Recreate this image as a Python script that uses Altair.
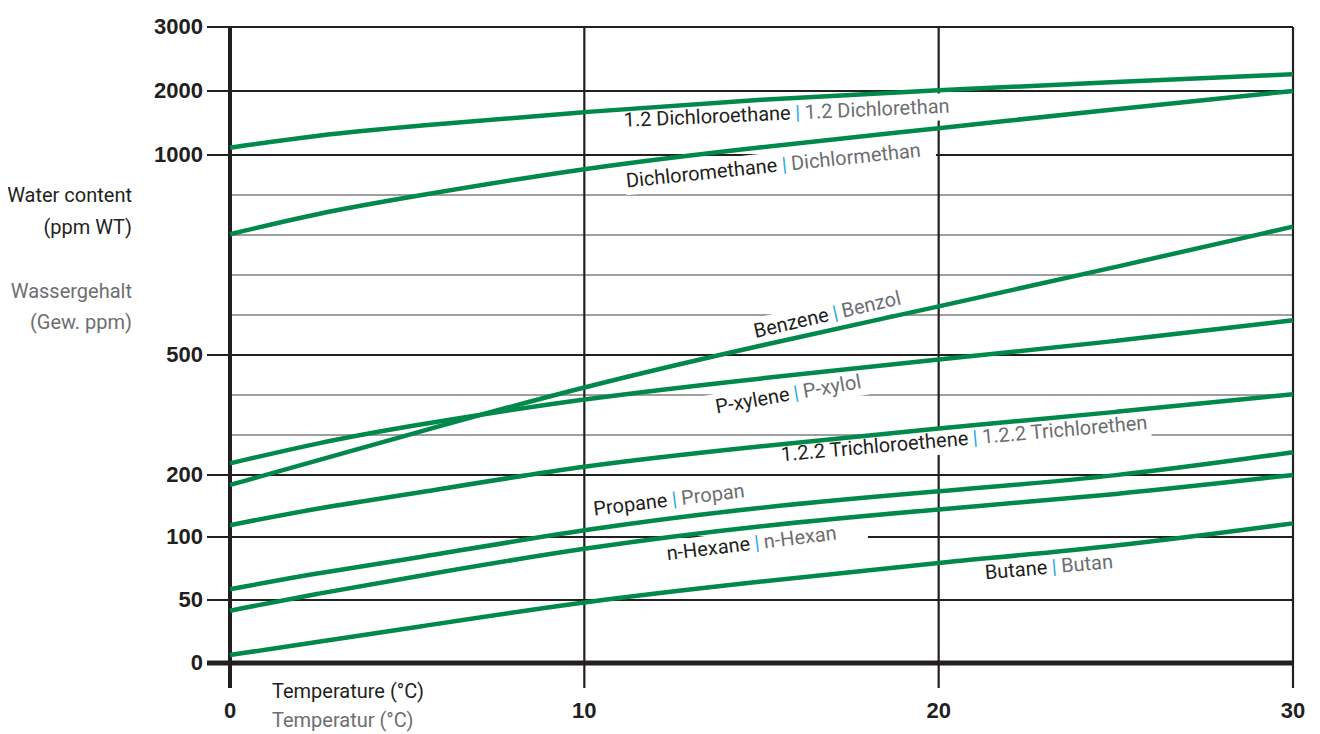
import altair as alt
import pandas as pd
import numpy as np

# ---------------- data ----------------
temps = [0, 2.5, 5, 10, 15, 20, 25, 30]

dichloroethane = [1114, 1312, 1442, 1677, 1870, 2016, 2141, 2261]
dichloromethane = [802, 855, 894, 968, 1128, 1417, 1719, 2000]
benzene = [184, 237, 300, 422, 525, 621, 720, 821]
p_xylene = [229, 281, 322, 392, 442, 489, 534, 587]
trichloroethene = [119, 147, 168, 225, 272, 317, 357, 402]
propane = [58.5, 71.7, 82, 113, 149, 174, 197, 257]
n_hexane = [41.5, 55.3, 67.5, 91.7, 119, 145, 168, 200]
butane = [6.3, 16.9, 27.3, 49, 64.7, 79.8, 92.3, 122]

series = {
    "1.2 Dichloroethane": dichloroethane,
    "Dichloromethane": dichloromethane,
    "Benzene": benzene,
    "P-xylene": p_xylene,
    "1.2.2 Trichloroethene": trichloroethene,
    "Propane": propane,
    "n-Hexane": n_hexane,
    "Butane": butane,
}

y_tick_values = [0, 50, 100, 200, 500, 1000, 2000, 3000]
major_lines = [50, 100, 200, 500, 1000, 2000, 3000]
minor_lines = [300, 400, 600, 700, 800, 900]
x_tick_values = [0, 10, 20, 30]
x_grid_values = [10, 20, 30]

label_en = ["1.2 Dichloroethane", "Dichloromethane", "Benzene", "P-xylene",
            "1.2.2 Trichloroethene", "Propane", "n-Hexane", "Butane"]
label_de = ["1.2 Dichlorethan", "Dichlormethan", "Benzol", "P-xylol",
            "1.2.2 Trichlorethen", "Propan", "n-Hexan", "Butan"]
label_t = [16.02, 15.64, 17.08, 15.98, 21.03, 12.54, 14.87, 23.26]
label_v = [1652, 975, 604, 404, 292, 160, 95, 76]
label_angle = [357.5, 354, 347, 350, 355, 353, 353, 355]
box_left = [178, 160, 92, 92, 198, 87, 97, 72]
box_right = [160, 152, 75, 75, 176, 78, 111, 64]

# ---------------- styling ----------------
W, H = 1063, 636
Y_DOMAIN = [0, 50, 100, 200, 1000, 2000, 3000]
Y_RANGE = [636, 573, 510, 448, 128, 64, 0]
GREEN = "#00894B"
DARK = "#231F20"
GRAY = "#6D6E71"
BLUE = "#27AAE1"
MINOR = "#7F7F7F"
NARROW = "Roboto, Liberation Sans Narrow, sans-serif"
BOLD = "Liberation Sans, Arial, Helvetica, sans-serif"
LABEL_SIZE = 20

XS = alt.Scale(domain=[0, 30], nice=False, zero=False)
YS = alt.Scale(domain=Y_DOMAIN, range=Y_RANGE, nice=False, zero=False)


def y_px(v):
    return float(np.interp(v, Y_DOMAIN, Y_RANGE))


def y_val(p):
    return float(np.interp(p, Y_RANGE[::-1], Y_DOMAIN[::-1]))


# ---------------- tables ----------------
curve_rows = []
for name, vals in series.items():
    for t, v in zip(temps, vals):
        curve_rows.append({"series": name, "t": t, "v": v})
curves_df = pd.DataFrame(curve_rows)

labels_df = pd.DataFrame({
    "en": label_en, "de": label_de, "t": label_t, "v": label_v,
    "angle": label_angle, "sep": ["|"] * len(label_en),
})

box_rows = []
for i in range(len(label_en)):
    a = np.radians(label_angle[i] - 360)
    ax = label_t[i] / 30 * W
    ay = y_px(label_v[i])
    for sgn, ln in ((-1, box_left[i]), (1, box_right[i])):
        px = ax + sgn * ln * np.cos(a)
        py = ay + sgn * ln * np.sin(a)
        box_rows.append({"id": i, "t": px / W * 30, "v": y_val(py)})
boxes_df = pd.DataFrame(box_rows)

X_ENC = dict(scale=XS, axis=None)
Y_ENC = dict(scale=YS, axis=None)

# ---------------- layers ----------------
minor = alt.Chart(pd.DataFrame({"v": minor_lines})).mark_rule(
    color=MINOR, strokeWidth=1.3
).encode(y=alt.Y("v:Q", **Y_ENC), x=alt.value(0), x2=alt.value(W))

major = alt.Chart(pd.DataFrame({"v": major_lines})).mark_rule(
    color=DARK, strokeWidth=2.2
).encode(y=alt.Y("v:Q", **Y_ENC), x=alt.value(-23), x2=alt.value(W))

vgrid = alt.Chart(pd.DataFrame({"t": x_grid_values})).mark_rule(
    color=DARK, strokeWidth=2.2
).encode(x=alt.X("t:Q", **X_ENC), y=alt.value(0), y2=alt.value(H + 25))

boxes = alt.Chart(boxes_df).mark_line(
    color="white", strokeWidth=27, strokeCap="butt"
).encode(
    x=alt.X("t:Q", **X_ENC),
    y=alt.Y("v:Q", **Y_ENC),
    detail="id:N",
)

left_axis = alt.Chart(pd.DataFrame({"t": [0]})).mark_rule(
    color=DARK, strokeWidth=4
).encode(x=alt.X("t:Q", **X_ENC), y=alt.value(0), y2=alt.value(H + 25))

bottom_axis = alt.Chart(pd.DataFrame({"v": [0]})).mark_rule(
    color=DARK, strokeWidth=5
).encode(y=alt.Y("v:Q", **Y_ENC), x=alt.value(-23), x2=alt.value(W))

curves = alt.Chart(curves_df).mark_line(
    interpolate="basis", strokeWidth=4.5, color=GREEN
).encode(
    x=alt.X("t:Q", **X_ENC),
    y=alt.Y("v:Q", **Y_ENC),
    detail="series:N",
)

y_labels = alt.Chart(pd.DataFrame({"v": y_tick_values})).mark_text(
    align="right", baseline="middle", font=BOLD, fontWeight="bold",
    fontSize=22, color=DARK
).encode(y=alt.Y("v:Q", **Y_ENC), x=alt.value(-27),
         text=alt.Text("v:Q", format="d"))

x_labels = alt.Chart(pd.DataFrame({"t": x_tick_values})).mark_text(
    align="center", baseline="top", font=BOLD, fontWeight="bold",
    fontSize=22, color=DARK
).encode(x=alt.X("t:Q", **X_ENC), y=alt.value(H + 38),
         text=alt.Text("t:Q", format="d"))

base_lab = alt.Chart(labels_df).encode(
    x=alt.X("t:Q", **X_ENC),
    y=alt.Y("v:Q", **Y_ENC),
    angle=alt.Angle("angle:Q", scale=None),
)
lab_en = base_lab.mark_text(align="right", baseline="middle", dx=-7,
                            font=NARROW, fontSize=LABEL_SIZE, color=DARK).encode(text="en:N")
lab_sep = base_lab.mark_text(align="center", baseline="middle",
                             font=NARROW, fontSize=LABEL_SIZE, color=BLUE).encode(text="sep:N")
lab_de = base_lab.mark_text(align="left", baseline="middle", dx=7,
                            font=NARROW, fontSize=LABEL_SIZE, color=GRAY).encode(text="de:N")


def note(text, x, y, color, align):
    return alt.Chart(pd.DataFrame({"s": [text]})).mark_text(
        align=align, baseline="alphabetic", font=NARROW, fontSize=20, color=color
    ).encode(text="s:N", x=alt.value(x), y=alt.value(y))


titles = [
    note("Water content", -98, 175, DARK, "right"),
    note("(ppm WT)", -98, 207, DARK, "right"),
    note("Wassergehalt", -98, 271, GRAY, "right"),
    note("(Gew. ppm)", -98, 302, GRAY, "right"),
    note("Temperature (°C)", 42, 671, DARK, "left"),
    note("Temperatur (°C)", 42, 700, GRAY, "left"),
]

chart = alt.layer(
    minor, major, vgrid, boxes, left_axis, bottom_axis, curves,
    y_labels, x_labels, lab_en, lab_sep, lab_de, *titles
).properties(
    width=W, height=H,
    autosize=alt.AutoSizeParams(type="none"),
    padding={"left": 222, "top": 19, "right": 19, "bottom": 70},
).configure_view(stroke=None).configure(background="white")

chart.save("out.html", embed_options={"renderer": "svg", "actions": False})
